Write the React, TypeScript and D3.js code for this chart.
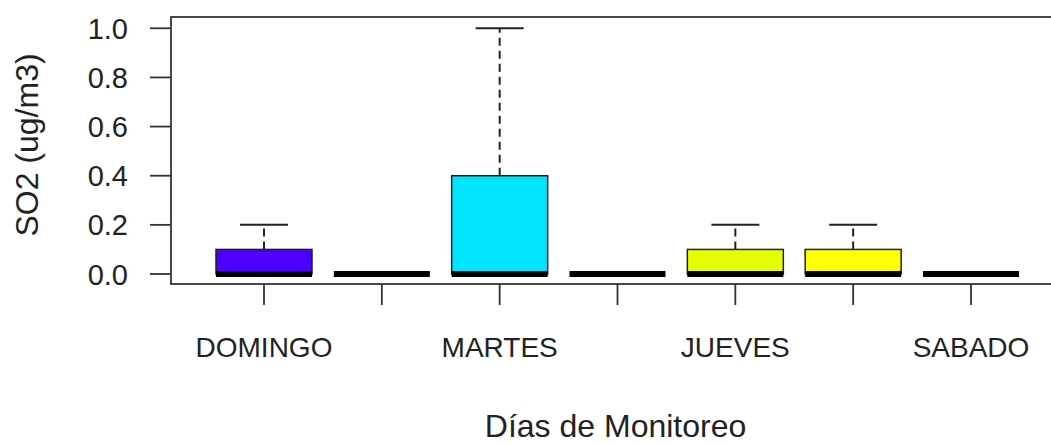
import React from "react";
import * as d3 from "d3";

const categories = ["DOMINGO", "LUNES", "MARTES", "MIERCOLES", "JUEVES", "VIERNES", "SABADO"];
const shownLabels = ["DOMINGO", "MARTES", "JUEVES", "SABADO"];
const lowerWhisker = [0, 0, 0, 0, 0, 0, 0];
const q1 = [0, 0, 0, 0, 0, 0, 0];
const median = [0, 0, 0, 0, 0, 0, 0];
const q3 = [0.1, 0, 0.4, 0, 0.1, 0.1, 0];
const upperWhisker = [0.2, 0, 1.0, 0, 0.2, 0.2, 0];
const colors = ["#4C00FF", "#004CFF", "#00E5FF", "#00FF4D", "#E6FF00", "#FFFF00", "#FFE0B3"];
const yTicks = [0, 0.2, 0.4, 0.6, 0.8, 1.0];

const W = 1051;
const H = 445;
const plotLeft = 171;
const plotTop = 17;
const plotBottom = 284;

export default function App() {
  const x = d3.scaleLinear().domain([1, 7]).range([264, 971]);
  const y = d3.scaleLinear().domain([0, 1]).range([274, 28.3]);
  const plotRight = x(7.79);
  const boxHalf = 48;
  const capHalf = 24;
  const font = "'Liberation Sans', Arial, sans-serif";
  const textColor = "#222";

  return (
    <svg
      width={W}
      height={H}
      style={{ position: "absolute", left: 0, top: 0, background: "#fff" }}
    >
      <rect x={0} y={0} width={W} height={H} fill="#fff" />
      {categories.map((c, i) => {
        const cx = x(i + 1);
        const hasBox = q3[i] > q1[i];
        return (
          <g key={c}>
            {upperWhisker[i] > q3[i] && (
              <>
                <line
                  x1={cx}
                  x2={cx}
                  y1={y(q3[i])}
                  y2={y(upperWhisker[i])}
                  stroke="#222"
                  strokeWidth={2}
                  strokeDasharray="8,5"
                />
                <line
                  x1={cx - capHalf}
                  x2={cx + capHalf}
                  y1={y(upperWhisker[i])}
                  y2={y(upperWhisker[i])}
                  stroke="#222"
                  strokeWidth={2}
                />
              </>
            )}
            {lowerWhisker[i] < q1[i] && (
              <line x1={cx} x2={cx} y1={y(q1[i])} y2={y(lowerWhisker[i])} stroke="#222" strokeWidth={2} strokeDasharray="8,5" />
            )}
            {hasBox && (
              <rect
                x={cx - boxHalf}
                y={y(q3[i])}
                width={boxHalf * 2}
                height={y(q1[i]) - y(q3[i])}
                fill={colors[i]}
                stroke="#222"
                strokeWidth={1.5}
              />
            )}
            <line
              x1={cx - boxHalf}
              x2={cx + boxHalf}
              y1={y(median[i])}
              y2={y(median[i])}
              stroke="#000"
              strokeWidth={6}
            />
          </g>
        );
      })}
      {/* frame */}
      <rect
        x={plotLeft}
        y={plotTop}
        width={plotRight - plotLeft}
        height={plotBottom - plotTop}
        fill="none"
        stroke="#333"
        strokeWidth={1.8}
      />
      {/* y axis */}
      {yTicks.map((t) => (
        <g key={t}>
          <line x1={150} x2={plotLeft} y1={y(t)} y2={y(t)} stroke="#333" strokeWidth={1.8} />
          <text
            x={128}
            y={y(t) + 10.5}
            textAnchor="end"
            fontFamily={font}
            fontSize={29}
            fill={textColor}
          >
            {t.toFixed(1)}
          </text>
        </g>
      ))}
      {/* x axis */}
      {categories.map((c, i) => (
        <g key={"xt" + c}>
          <line x1={x(i + 1)} x2={x(i + 1)} y1={plotBottom} y2={305} stroke="#333" strokeWidth={1.8} />
          {shownLabels.includes(c) && (
            <text
              x={x(i + 1)}
              y={357}
              textAnchor="middle"
              fontFamily={font}
              fontSize={28}
              fill={textColor}
            >
              {c}
            </text>
          )}
        </g>
      ))}
      <text
        x={(plotLeft + plotRight) / 2 - 2}
        y={437}
        textAnchor="middle"
        fontFamily={font}
        fontSize={32}
        fill={textColor}
      >
        Días de Monitoreo
      </text>
      <text
        transform={`translate(38,${145}) rotate(-90)`}
        textAnchor="middle"
        fontFamily={font}
        fontSize={32}
        fill={textColor}
      >
        SO2 (ug/m3)
      </text>
    </svg>
  );
}
